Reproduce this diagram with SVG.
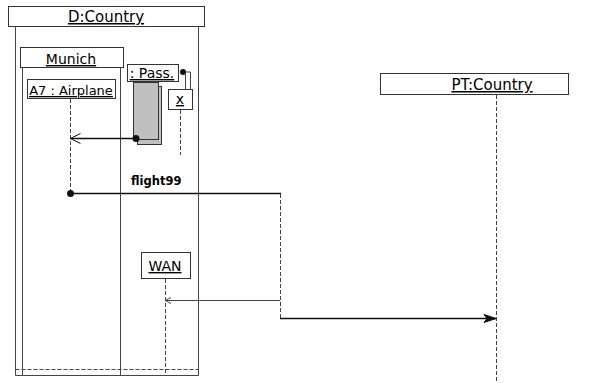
<svg xmlns="http://www.w3.org/2000/svg" width="597" height="383" viewBox="0 0 597 383">
<style>
.box{fill:#fff;stroke:#333;stroke-width:1}
.ln{stroke:#444;stroke-width:1;fill:none}
.ds{stroke:#444;stroke-width:1;fill:none;stroke-dasharray:4 2}
.msg{stroke:#111;stroke-width:1.5;fill:none}
.t{font-family:"DejaVu Sans",sans-serif;fill:#000;text-decoration:underline;text-anchor:middle}
.act{fill:#c0c0c0;stroke:#333;stroke-width:1}
</style>
<defs>
<marker id="open" markerWidth="12" markerHeight="12" refX="11" refY="6" orient="auto" markerUnits="userSpaceOnUse">
<path d="M1,1 L11,6 L1,11" fill="none" stroke="#111" stroke-width="1"/>
</marker>
<marker id="small" markerWidth="8" markerHeight="8" refX="7" refY="4" orient="auto" markerUnits="userSpaceOnUse">
<path d="M1,1 L7,4 L1,7" fill="none" stroke="#444" stroke-width="1"/>
</marker>
<marker id="solid" markerWidth="14" markerHeight="10" refX="13" refY="5" orient="auto" markerUnits="userSpaceOnUse">
<path d="M1,1 L13,5 L1,9 L4,5 Z" fill="#111" stroke="#111" stroke-width="1"/>
</marker>
</defs>

<g id="D_Country">
<rect class="box" x="8.5" y="6.5" width="196" height="20"/>
<text class="t" x="106" y="22" font-size="15">D:Country</text>
<path class="ln" d="M15.5,27 V375.5 H198.5 V27"/>
<path class="ds" d="M15.5,369.5 H198.5"/>
</g>

<g id="Munich">
<rect class="box" x="20.5" y="47.5" width="103" height="20"/>
<text class="t" x="71" y="64" font-size="14">Munich</text>
<path class="ln" d="M22.5,68 V375.5 H120.5 V68"/>
</g>

<g id="A7_Airplane">
<rect class="box" x="27.5" y="79.5" width="88" height="19"/>
<text class="t" x="71" y="95" font-size="13">A7 : Airplane</text>
<path class="ds" d="M70.5,99 V194" stroke="#777"/>
</g>

<g id="Pass">
<rect class="act" x="137.5" y="86.5" width="24" height="58"/>
<rect class="act" x="133.5" y="82.5" width="25" height="57"/>
<rect class="box" x="127.5" y="64.5" width="51" height="17"/>
<text class="t" x="152" y="78" font-size="14">: Pass.</text>
</g>

<g id="x">
<rect class="box" x="168.5" y="89.5" width="24" height="20"/>
<text class="t" x="180" y="104" font-size="14">x</text>
<path class="ds" d="M180.5,110 V155"/>
</g>

<g id="WAN">
<rect class="box" x="141.5" y="252.5" width="49" height="26"/>
<text class="t" x="165" y="271" font-size="14">WAN</text>
<path class="ds" d="M165.5,279 V375"/>
</g>

<g id="PT_Country">
<rect class="box" x="380.5" y="73.5" width="188" height="21"/>
<text class="t" x="492" y="90" font-size="15">PT:Country</text>
<path class="ds" d="M496.5,95 V383"/>
</g>

<g id="connectors">
<path class="ln" d="M183,72 H190.5 V89.5" stroke="#111"/>
<path class="ln" d="M185.5,74 V89.5" stroke="#111"/>
<circle cx="183" cy="72" r="3" fill="#111"/>
<path class="msg" d="M136,138.5 H70.5" marker-end="url(#open)"/>
<circle cx="136" cy="138.5" r="3.5" fill="#111"/>
<text x="131" y="185" font-family="DejaVu Sans,sans-serif" font-size="11.5" font-weight="bold">flight99</text>
<path class="msg" d="M70.5,193.5 H281"/>
<circle cx="70.5" cy="193.5" r="3.5" fill="#111"/>
<path class="ds" d="M280.5,194 V318" stroke="#555"/>
<path class="ln" d="M280,300.5 H165" stroke="#333" marker-end="url(#small)"/>
<path class="msg" d="M280,318.5 H496" marker-end="url(#solid)"/>
</g>
</svg>
